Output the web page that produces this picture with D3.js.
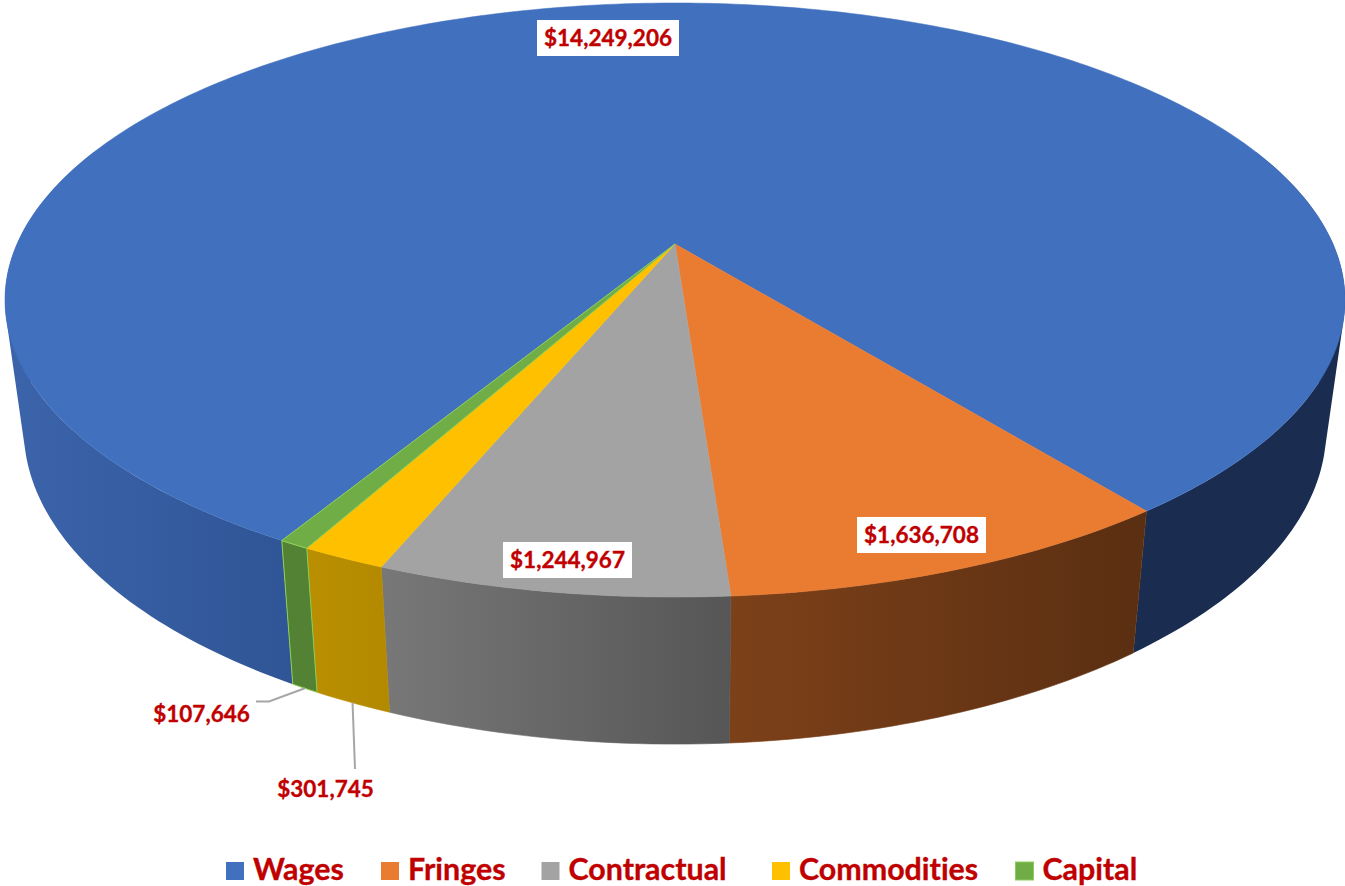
<!DOCTYPE html>
<html>
<head>
<meta charset="utf-8">
<script src="https://cdn.jsdelivr.net/npm/d3@7/dist/d3.min.js"></script>
<style>
html, body { margin: 0; padding: 0; background: #fff; overflow: hidden; }
text { font-family: Lato, "Open Sans", sans-serif; font-weight: 700; font-variant-ligatures: none; fill: #c00000; stroke: #c00000; stroke-width: 0.35px; }
</style>
</head>
<body>
<svg id="chart" width="1345" height="886"></svg>
<script>
const categories = ['Wages', 'Fringes', 'Contractual', 'Commodities', 'Capital']
const amounts = [14249206, 1636708, 1244967, 301745, 107646]

const topColors = ['#4170bf', '#ea7c32', '#a3a3a3', '#ffc000', '#70ad47']
const sideStops = [
    ['#3c64ab', '#2f5596'],
    ['#7d4119', '#5b2f12'],
    ['#777777', '#565656'],
    ['#b98e00', '#b38900'],
    ['#548235', '#548235']
]
const wagesRightColor = '#1a2d50'

// first slice starts here, measured clockwise from 12 o'clock
const firstAngle = -150 * Math.PI / 180

// projection of the pie disc
const cx = 675, cy = 244
const persp = 0.1886, scaleX = 658, scaleY = 286.5
// lower rim
const rimX = 0.972, rimY = 1.06, rimFront = 597, rimBottom = 744

const svg = d3.select('#chart')
const defs = svg.append('defs')
const format = d3.format('$,')

function project(a) {
    const u = Math.sin(a), v = -Math.cos(a)
    const w = 1 - persp * v
    return [cx + scaleX * u / w, cy + scaleY * v / w]
}

function lower(p) {
    return [cx + rimX * (p[0] - cx), rimBottom + rimY * (p[1] - rimFront)]
}

function arcPoints(a0, a1) {
    const n = Math.max(2, Math.ceil(Math.abs(a1 - a0) * 60))
    return d3.range(n + 1).map(i => project(a0 + (a1 - a0) * i / n))
}

const pie = d3.pie().sort(null).startAngle(firstAngle).endAngle(firstAngle + 2 * Math.PI)
const slices = pie(amounts)
const line = d3.line()

function sidePath(a0, a1) {
    const upper = arcPoints(a0, a1)
    return line(upper.concat(upper.map(lower).reverse())) + 'Z'
}

// the wages ends turn past the widest point, so the rim has to be filled
// strip by strip or the straight edge down the side goes missing
function stripPath(a0, a1) {
    const upper = arcPoints(a0, a1)
    return d3.pairs(upper).map(([p, q]) => {
        const quad = [p, q, lower(q), lower(p)]
        return line(d3.polygonArea(quad) > 0 ? quad : quad.reverse()) + 'Z'
    }).join('')
}

function gradient(id, stops, x0, x1) {
    const g = defs.append('linearGradient')
        .attr('id', id)
        .attr('gradientUnits', 'userSpaceOnUse')
        .attr('x1', x0).attr('x2', x1).attr('y1', 0).attr('y2', 0)
    g.append('stop').attr('offset', '0%').attr('stop-color', stops[0])
    g.append('stop').attr('offset', '100%').attr('stop-color', stops[1])
}

// sides first, top faces go over them
const sides = svg.append('g')
const hidden = 70 * Math.PI / 180

gradient('side0', sideStops[0], 5, 293)
sides.append('path')
    .attr('d', stripPath(slices[0].startAngle, -hidden))
    .attr('fill', 'url(#side0)')
sides.append('path')
    .attr('d', stripPath(hidden, slices[0].endAngle))
    .attr('fill', wagesRightColor)

slices.slice(1).forEach((d) => {
    const x0 = lower(project(d.endAngle))[0]
    const x1 = lower(project(d.startAngle))[0]
    gradient('side' + d.index, sideStops[d.index], x0, x1)
    sides.append('path')
        .attr('d', sidePath(d.startAngle, d.endAngle))
        .attr('fill', `url(#side${d.index})`)
        .attr('stroke', d.index == 4 ? '#8ccf55' : `url(#side${d.index})`)
        .attr('stroke-width', d.index == 4 ? 1 : 0.6)
})

svg.append('g').selectAll('path')
    .data(slices)
    .join('path')
    .attr('d', d => line([[cx, cy]].concat(arcPoints(d.startAngle, d.endAngle))) + 'Z')
    .attr('fill', d => topColors[d.index])
    .attr('stroke', d => d.index == 4 ? '#8ccf55' : topColors[d.index])
    .attr('stroke-width', d => d.index == 4 ? 1 : 0.5)

// leader lines for the two thin slices
const leaders = [
    { index: 4, elbow: [[269, 701.5], [256, 701.5]] },
    { index: 3, elbow: [[355, 769]] }
]
svg.append('g').selectAll('path')
    .data(leaders)
    .join('path')
    .attr('d', (d) => {
        const s = slices[d.index]
        const anchor = lower(project((s.startAngle + s.endAngle) / 2))
        return line([anchor].concat(d.elbow))
    })
    .attr('fill', 'none')
    .attr('stroke', '#a6a6a6')
    .attr('stroke-width', 2)

// data labels, boxWidth 0 means no white box
const labelSpots = [
    { x: 608, y: 38, boxWidth: 142 },
    { x: 921.5, y: 535, boxWidth: 129 },
    { x: 567.5, y: 560, boxWidth: 129 },
    { x: 325.5, y: 789, boxWidth: 0 },
    { x: 201.5, y: 714, boxWidth: 0 }
]

labelSpots.forEach((s, i) => {
    if (s.boxWidth) {
        svg.append('rect')
            .attr('x', s.x - s.boxWidth / 2)
            .attr('y', s.y - 18)
            .attr('width', s.boxWidth)
            .attr('height', 36)
            .attr('fill', '#ffffff')
    }
    svg.append('text')
        .attr('x', s.x)
        .attr('y', s.y)
        .attr('dy', '0.36em')
        .attr('text-anchor', 'middle')
        .style('font-size', '22.5px')
        .text(format(amounts[i]))
})

// legend
const legendStarts = [226, 381, 541.5, 772, 1015.5]
const legend = svg.append('g')
categories.forEach((name, i) => {
    legend.append('rect')
        .attr('x', legendStarts[i])
        .attr('y', 862)
        .attr('width', 18)
        .attr('height', 18)
        .attr('fill', topColors[i])
        .attr('stroke', i == 4 ? '#8ccf55' : 'none')
    legend.append('text')
        .attr('x', legendStarts[i] + 27)
        .attr('y', 880)
        .style('font-size', '30.4px')
        .text(name)
})
</script>
</body>
</html>
